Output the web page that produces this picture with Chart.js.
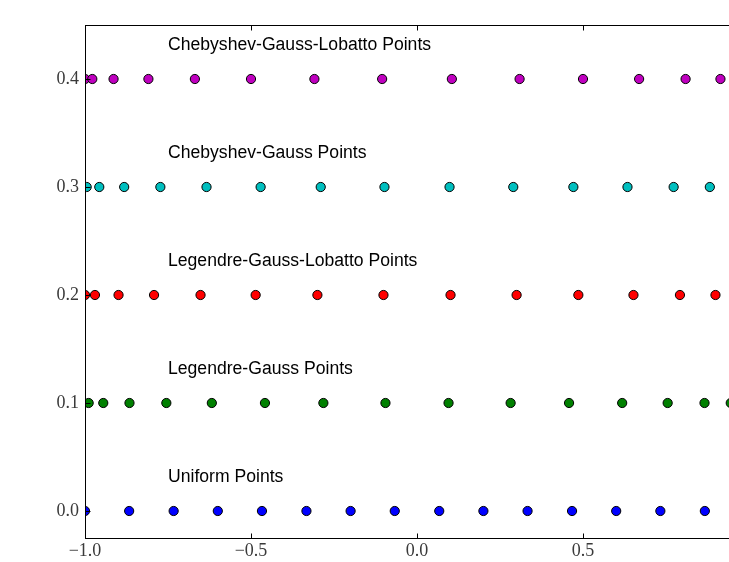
<!DOCTYPE html>
<html>
<head>
<meta charset="utf-8">
<script src="https://cdn.jsdelivr.net/npm/chart.js@4.4.0/dist/chart.umd.min.js"></script>
<style>
html, body { margin: 0; padding: 0; background: #fff; overflow: hidden; }
#wrap { width: 729px; height: 562px; overflow: hidden; }
</style>
</head>
<body>
<div id="wrap"><canvas id="chart" width="800" height="562"></canvas></div>
<script>
// node positions (16 nodes per row)
const uniformX = [-1, -0.867, -0.733, -0.6, -0.467, -0.333, -0.2, -0.067, 0.067, 0.2, 0.333, 0.467, 0.6, 0.733, 0.867, 1];
const legGaussX = [-0.989, -0.945, -0.866, -0.755, -0.618, -0.458, -0.282, -0.095, 0.095, 0.282, 0.458, 0.618, 0.755, 0.866, 0.945, 0.989];
const legLobattoX = [-1, -0.970, -0.899, -0.792, -0.652, -0.486, -0.300, -0.101, 0.101, 0.300, 0.486, 0.652, 0.792, 0.899, 0.970, 1];
const chebGaussX = [-0.995, -0.957, -0.882, -0.773, -0.634, -0.471, -0.290, -0.098, 0.098, 0.290, 0.471, 0.634, 0.773, 0.882, 0.957, 0.995];
const chebLobattoX = [-1, -0.978, -0.914, -0.809, -0.669, -0.5, -0.309, -0.105, 0.105, 0.309, 0.5, 0.669, 0.809, 0.914, 0.978, 1];

const rowNames = ['Uniform Points', 'Legendre-Gauss Points', 'Legendre-Gauss-Lobatto Points', 'Chebyshev-Gauss Points', 'Chebyshev-Gauss-Lobatto Points'];
const rowY = [0.0, 0.1, 0.2, 0.3, 0.4];
const rowX = [uniformX, legGaussX, legLobattoX, chebGaussX, chebLobattoX];
const rowColors = ['#0000ff', '#008000', '#ff0000', '#00bfbf', '#bf00bf'];

const xTicks = [-1.0, -0.5, 0.0, 0.5, 1.0];
const yTicks = [0.0, 0.1, 0.2, 0.3, 0.4];

function fmt(v) {
    return (v < 0 ? '\u2212' : '') + Math.abs(v).toFixed(1);
}

const datasets = rowX.map((xs, i) => ({
    label: rowNames[i],
    data: xs.map(x => ({ x: x, y: rowY[i] })),
    showLine: false,
    pointRadius: 4.6,
    pointHoverRadius: 4.6,
    pointBackgroundColor: rowColors[i],
    pointBorderColor: '#000',
    pointBorderWidth: 1,
    clip: 0
}));

// frame + inward ticks like matplotlib
const framePlugin = {
    id: 'frame',
    afterDatasetsDraw(chart) {
        const ctx = chart.ctx;
        const a = chart.chartArea;
        const xs = chart.scales.x, ys = chart.scales.y;
        const L = Math.round(a.left) + 0.5, R = Math.round(a.right) + 0.5;
        const T = Math.round(a.top) + 0.5, B = Math.round(a.bottom) + 0.5;
        ctx.save();
        ctx.strokeStyle = '#000';
        ctx.lineWidth = 1;
        ctx.strokeRect(L, T, R - L, B - T);
        ctx.beginPath();
        xTicks.forEach(v => {
            const px = Math.round(xs.getPixelForValue(v)) + 0.5;
            ctx.moveTo(px, B); ctx.lineTo(px, B - 5);
            ctx.moveTo(px, T); ctx.lineTo(px, T + 5);
        });
        yTicks.forEach(v => {
            const py = Math.round(ys.getPixelForValue(v)) + 0.5;
            ctx.moveTo(L, py); ctx.lineTo(L + 5, py);
            ctx.moveTo(R, py); ctx.lineTo(R - 5, py);
        });
        ctx.stroke();

        // row captions
        ctx.fillStyle = '#000';
        ctx.font = '17.6px "Liberation Sans", Arial, sans-serif';
        ctx.textAlign = 'left';
        ctx.textBaseline = 'alphabetic';
        rowNames.forEach((name, i) => {
            ctx.fillText(name, xs.getPixelForValue(-0.75), ys.getPixelForValue(rowY[i] + 0.027));
        });
        ctx.restore();
    }
};

const config = {
    type: 'scatter',
    data: { datasets: datasets },
    options: {
        responsive: false,
        animation: false,
        events: [],
        layout: {
            padding: { top: 25, right: 51, bottom: 0, left: 0 }
        },
        plugins: {
            legend: { display: false },
            tooltip: { enabled: false }
        },
        scales: {
            x: {
                type: 'linear',
                min: -1,
                max: 1,
                afterBuildTicks: s => { s.ticks = xTicks.map(v => ({ value: v })); },
                afterFit: s => { s.height = 24; },
                grid: { display: false, drawTicks: false },
                border: { display: false },
                ticks: {
                    padding: 2,
                    color: '#3a3a3a',
                    font: { family: '"Liberation Serif", "DejaVu Serif", serif', size: 18 },
                    maxRotation: 0,
                    callback: v => fmt(v)
                }
            },
            y: {
                type: 'linear',
                min: -0.025,
                max: 0.45,
                afterBuildTicks: s => { s.ticks = yTicks.map(v => ({ value: v })); },
                afterFit: s => { s.width = 85; },
                grid: { display: false, drawTicks: false },
                border: { display: false },
                ticks: {
                    padding: 6,
                    color: '#3a3a3a',
                    font: { family: '"Liberation Serif", "DejaVu Serif", serif', size: 18 },
                    callback: v => fmt(v)
                }
            }
        }
    },
    plugins: [framePlugin]
};

const chart = new Chart(document.getElementById('chart'), config);
</script>
</body>
</html>
